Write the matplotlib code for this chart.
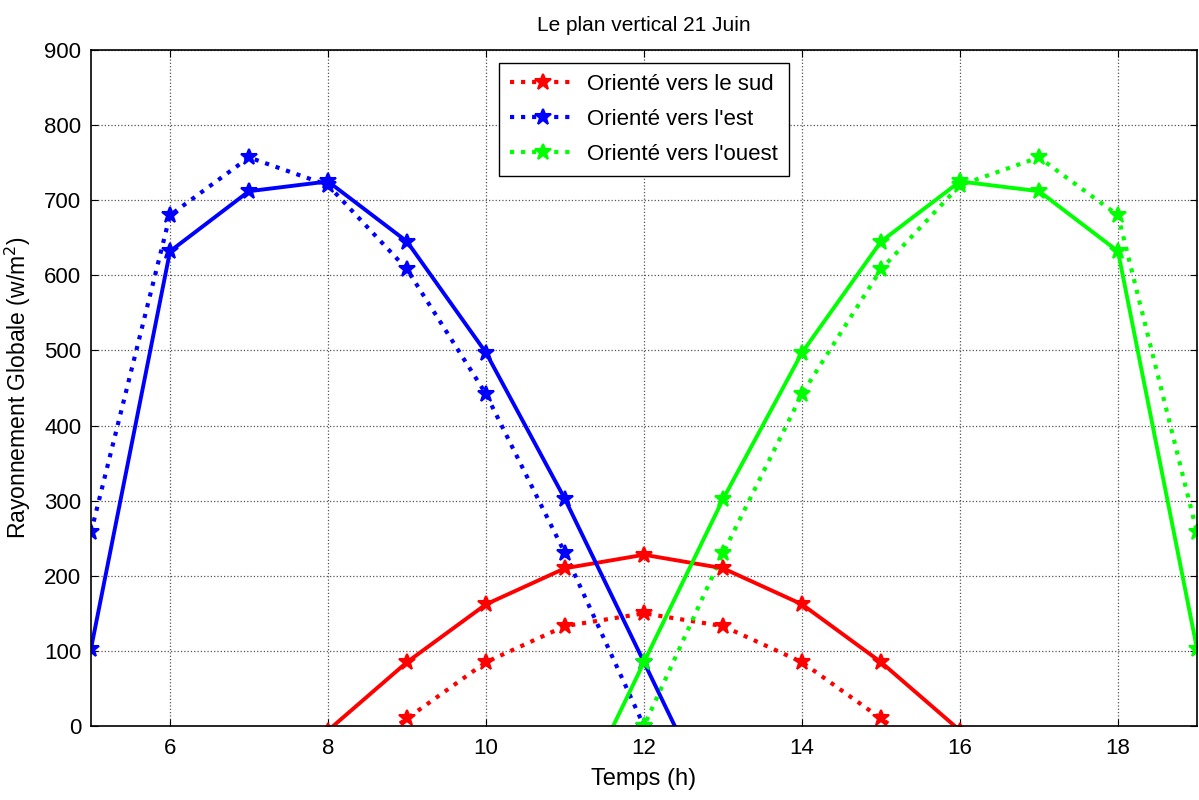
import numpy as np
import matplotlib
matplotlib.use('Agg')
import matplotlib.pyplot as plt

# heures de la journee (21 juin)
heures = [5, 6, 7, 8, 9, 10, 11, 12, 13, 14, 15, 16, 17, 18, 19]

# rayonnement global (W/m2) - trait plein
sud = [np.nan, np.nan, np.nan, -6, 85, 162, 210, 228, 210, 162, 85, -6, np.nan, np.nan, np.nan]
est = [103, 632, 712, 725, 645, 497, 302, 85, -133, np.nan, np.nan, np.nan, np.nan, np.nan, np.nan]
ouest = [np.nan, np.nan, np.nan, np.nan, np.nan, np.nan, -133, 85, 302, 497, 645, 725, 712, 632, 103]

# rayonnement global (W/m2) - pointilles
sud_p = [np.nan, np.nan, np.nan, -65, 10, 85, 133, 150, 133, 85, 10, -65, np.nan, np.nan, np.nan]
est_p = [258, 680, 757, 720, 608, 442, 230, 0, -230, np.nan, np.nan, np.nan, np.nan, np.nan, np.nan]
ouest_p = [np.nan, np.nan, np.nan, np.nan, np.nan, np.nan, -230, 0, 230, 442, 608, 720, 757, 680, 258]

plt.rcParams['font.family'] = ['Liberation Sans', 'DejaVu Sans']

fig = plt.figure(figsize=(11.99, 8.0), dpi=100)
ax = fig.add_axes([0.0759, 0.0925, 0.9224, 0.845])

mk = dict(marker='*', markersize=12, markeredgewidth=1.5)

ax.plot(heures, sud_p, ':', color='#ff0000', lw=3, label='Orienté vers le sud', **mk)
ax.plot(heures, est_p, ':', color='#0000ff', lw=3, label="Orienté vers l'est", **mk)
ax.plot(heures, ouest_p, ':', color='#00ff00', lw=3, label="Orienté vers l'ouest", **mk)
ax.plot(heures, sud, '-', color='#ff0000', lw=2.8, **mk)
ax.plot(heures, est, '-', color='#0000ff', lw=2.8, **mk)
ax.plot(heures, ouest, '-', color='#00ff00', lw=2.8, **mk)

ax.set_xlim(5, 19)
ax.set_ylim(0, 900)
ax.set_xticks(range(6, 19, 2))
ax.set_yticks(range(0, 901, 100))
ax.tick_params(direction='in', top=True, right=True, labelsize=16, length=5)
ax.tick_params(axis='x', pad=9)
ax.tick_params(axis='y', pad=7)
ax.grid(True, linestyle=':', color='#555555', linewidth=0.9)
for s in ax.spines.values():
    s.set_linewidth(1.2)

ax.set_title('Le plan vertical 21 Juin', fontsize=15, pad=14)
ax.set_xlabel('Temps (h)', fontsize=17, labelpad=6)
ax.set_ylabel('Rayonnement Globale (w/m$^2$)', fontsize=16.5, labelpad=8)

leg = ax.legend(loc='upper center', bbox_to_anchor=(0.5, 0.997), fontsize=16,
                fancybox=False, framealpha=1, edgecolor='black', handlelength=3.0,
                borderpad=0.5, labelspacing=0.62, handletextpad=0.5)
leg.get_frame().set_linewidth(1.0)

fig.savefig('out.png', dpi=100)
